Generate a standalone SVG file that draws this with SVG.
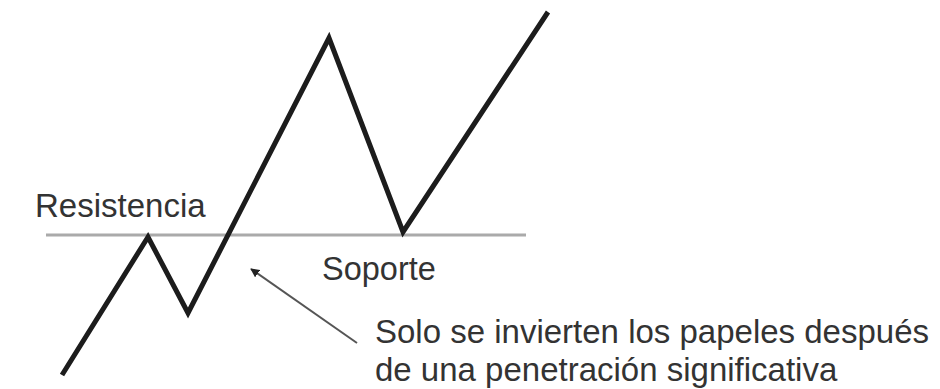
<svg xmlns="http://www.w3.org/2000/svg" width="940" height="389" viewBox="0 0 940 389">
<defs>
<style>
.lbl{font-family:"Liberation Sans",Arial,sans-serif;fill:#333333;}
.level{stroke:#aaaaaa;stroke-width:3;fill:none;}
.price{stroke:#1c1c1c;stroke-width:5;fill:none;stroke-linejoin:miter;stroke-linecap:butt;}
.pointer{stroke:#555555;stroke-width:2;fill:none;}
</style>
<marker id="ah" viewBox="0 0 10 10" refX="9" refY="5" markerWidth="9" markerHeight="9" markerUnits="userSpaceOnUse" orient="auto-start-reverse">
<path d="M0,0 L10,5 L0,10 z" fill="#222"/>
</marker>
</defs>
<rect width="940" height="389" fill="#ffffff"/>
<g id="level-line">
<line class="level" x1="46" y1="235" x2="526" y2="235"/>
</g>
<g id="price-path">
<polyline class="price" points="62,375 148,237 188,313 329,38 403,232 548,12"/>
</g>
<g id="connectors">
<line class="pointer" x1="357" y1="343" x2="251" y2="269" marker-end="url(#ah)"/>
</g>
<g id="label-resistencia">
<text class="lbl" x="35" y="217" font-size="33">Resistencia</text>
</g>
<g id="label-soporte">
<text class="lbl" x="322" y="280" font-size="32.5">Soporte</text>
</g>
<g id="label-note">
<text class="lbl" x="375" y="343" font-size="33">Solo se invierten los papeles después</text>
<text class="lbl" x="375" y="381" font-size="33">de una penetración significativa</text>
</g>
</svg>
